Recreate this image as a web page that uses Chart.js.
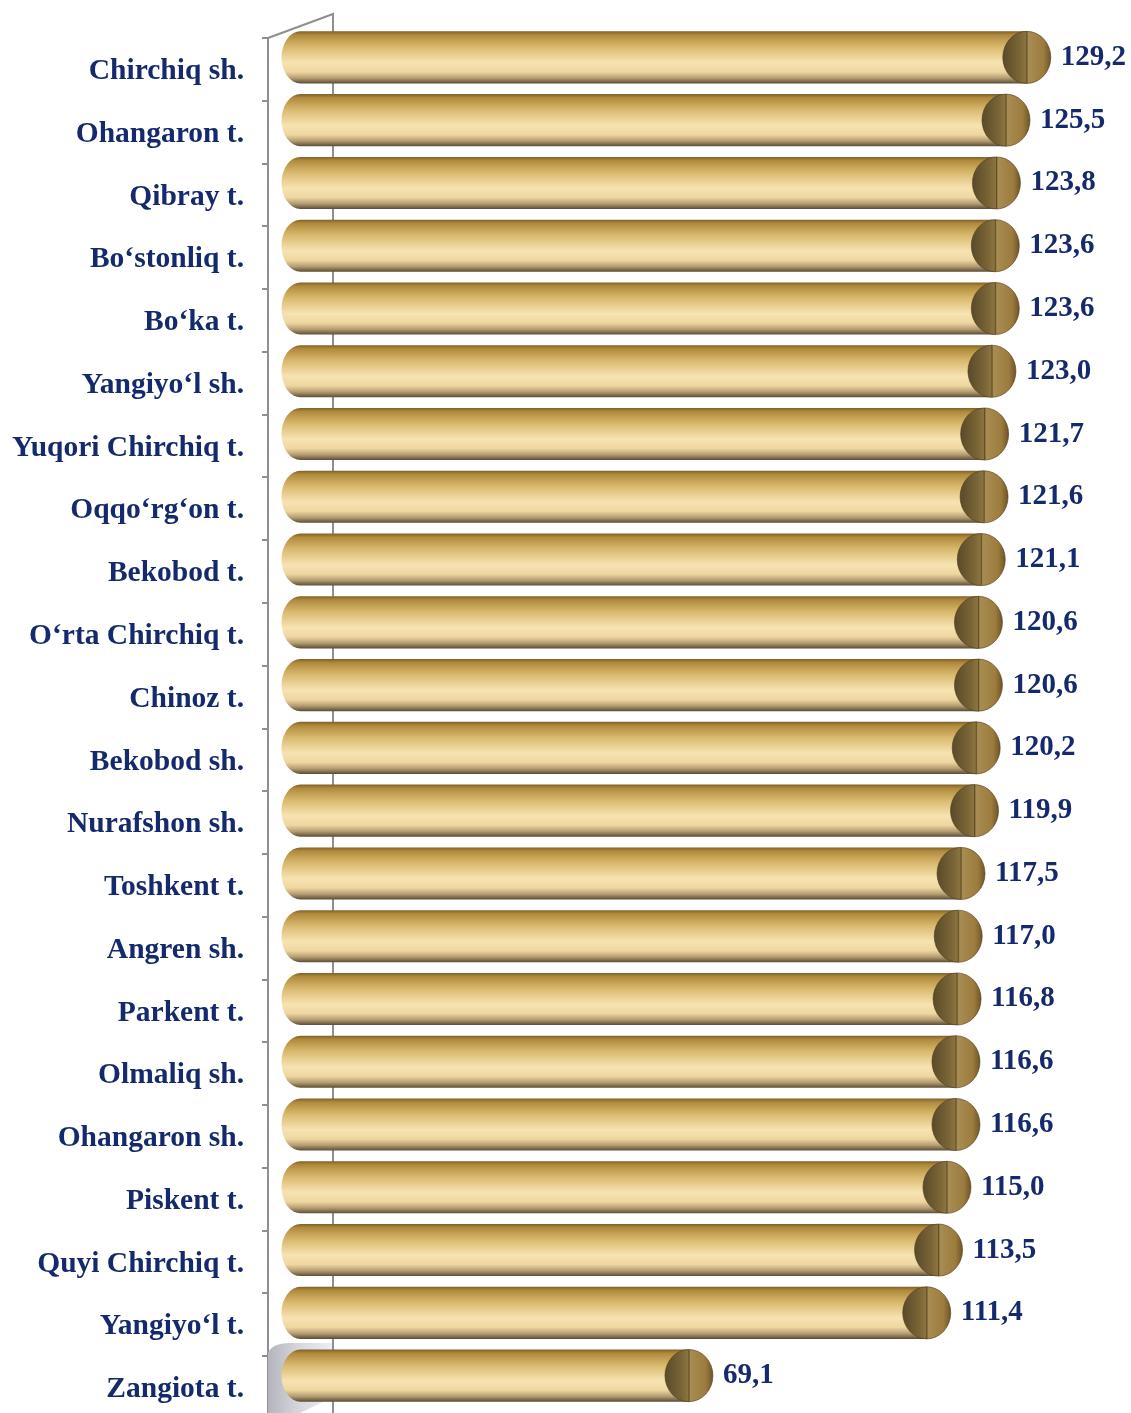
<!DOCTYPE html>
<html>
<head>
<meta charset="utf-8">
<script src="https://cdn.jsdelivr.net/npm/chart.js@4/dist/chart.umd.min.js"></script>
<style>
  html, body { margin: 0; padding: 0; background: #fff; }
  #grafik { display: block; }
</style>
</head>
<body>
<canvas id="grafik" width="1131" height="1413"></canvas>
<script>
const hududlar = [
  "Chirchiq sh.",
  "Ohangaron t.",
  "Qibray t.",
  "Bo‘stonliq t.",
  "Bo‘ka t.",
  "Yangiyo‘l sh.",
  "Yuqori Chirchiq t.",
  "Oqqo‘rg‘on t.",
  "Bekobod t.",
  "O‘rta Chirchiq t.",
  "Chinoz t.",
  "Bekobod sh.",
  "Nurafshon sh.",
  "Toshkent t.",
  "Angren sh.",
  "Parkent t.",
  "Olmaliq sh.",
  "Ohangaron sh.",
  "Piskent t.",
  "Quyi Chirchiq t.",
  "Yangiyo‘l t.",
  "Zangiota t.",
];
const qiymatlar = [
  129.2, 125.5, 123.8, 123.6, 123.6, 123.0, 121.7, 121.6, 121.1, 120.6, 120.6,
  120.2, 119.9, 117.5, 117.0, 116.8, 116.6, 116.6, 115.0, 113.5, 111.4, 69.1,
];

const matnRangi = "#142a6c";
const chiziqRangi = "#8f8f8f";
const chuqurlikX = 65;
const chuqurlikY = 24;
// grafik pastdan kesilgan: o'q rasm chegarasidan biroz pastga ketadi
const pastgaChiqish = 6;

function formatla(v) {
  return v.toFixed(1).replace(".", ",");
}

const ramkaPlugin = {
  id: "ramka",
  afterLayout(chart) {
    const y = chart.scales.y;
    y.bottom += pastgaChiqish;
    y.height += pastgaChiqish;
    chart.chartArea.bottom += pastgaChiqish;
    chart.chartArea.height += pastgaChiqish;
    y.configure();
  },
  beforeDatasetsDraw(chart) {
    const ctx = chart.ctx;
    const a = chart.chartArea;
    ctx.save();

    // pastki "pol" soyasi
    const pol = ctx.createLinearGradient(a.left, 0, a.left + chuqurlikX, 0);
    pol.addColorStop(0, "#b4b4bc");
    pol.addColorStop(0.5, "#d8d8de");
    pol.addColorStop(1, "#eeeef2");
    ctx.fillStyle = pol;
    ctx.beginPath();
    ctx.moveTo(a.left, a.bottom - 66);
    ctx.quadraticCurveTo(a.left + 4, a.bottom - 76, a.left + 22, a.bottom - 76);
    ctx.lineTo(a.left + chuqurlikX, a.bottom - 76);
    ctx.lineTo(a.left + chuqurlikX, a.bottom - 22);
    ctx.lineTo(a.left + 32, a.bottom - 6);
    ctx.lineTo(a.left, a.bottom);
    ctx.closePath();
    ctx.fill();

    ctx.strokeStyle = chiziqRangi;
    ctx.lineWidth = 2;
    ctx.beginPath();
    ctx.moveTo(a.left, a.top);
    ctx.lineTo(a.left + chuqurlikX, a.top - chuqurlikY);
    ctx.lineTo(a.left + chuqurlikX, a.bottom);
    ctx.stroke();
    ctx.restore();
  },
  afterDatasetsDraw(chart) {
    const ctx = chart.ctx;
    const meta = chart.getDatasetMeta(0);
    const dx = chuqurlikX / 2;
    const dy = -chuqurlikY / 2;

    meta.data.forEach((bar, i) => {
      const x0 = bar.base + dx;
      const x1 = bar.x + dx;
      const cy = bar.y + dy;
      const ry = bar.height / 2;
      const rxChap = 19;
      const rx = 24;
      const top = cy - ry;
      const bottom = cy + ry;

      ctx.save();
      const tana = ctx.createLinearGradient(0, top, 0, bottom);
      tana.addColorStop(0, "#7e6128");
      tana.addColorStop(0.07, "#b08a3c");
      tana.addColorStop(0.3, "#d9b96e");
      tana.addColorStop(0.6, "#f7e3b2");
      tana.addColorStop(0.78, "#eed6a0");
      tana.addColorStop(0.9, "#b39b72");
      tana.addColorStop(1, "#5a4c34");
      ctx.fillStyle = tana;
      ctx.beginPath();
      ctx.moveTo(x0, top);
      ctx.lineTo(x1, top);
      ctx.lineTo(x1, bottom);
      ctx.lineTo(x0, bottom);
      ctx.ellipse(x0, cy, rxChap, ry, 0, Math.PI / 2, (Math.PI * 3) / 2);
      ctx.closePath();
      ctx.fill();

      const yuz = ctx.createLinearGradient(x1 - rx, 0, x1 + rx, 0);
      yuz.addColorStop(0, "#5a4a2a");
      yuz.addColorStop(0.35, "#7a6536");
      yuz.addColorStop(0.48, "#8c7440");
      yuz.addColorStop(0.5, "#5e4c28");
      yuz.addColorStop(0.53, "#a88c52");
      yuz.addColorStop(0.85, "#9c7c3e");
      yuz.addColorStop(1, "#6e5528");
      ctx.fillStyle = yuz;
      ctx.beginPath();
      ctx.ellipse(x1, cy, rx, ry, 0, 0, Math.PI * 2);
      ctx.fill();
      ctx.strokeStyle = "rgba(80,60,25,0.6)";
      ctx.lineWidth = 1;
      ctx.stroke();

      ctx.fillStyle = matnRangi;
      ctx.font = "bold 29px 'Liberation Serif'";
      ctx.textAlign = "left";
      ctx.textBaseline = "middle";
      ctx.fillText(formatla(qiymatlar[i]), x1 + rx + 10, cy);
      ctx.restore();
    });
  },
};

const ctx = document.getElementById("grafik").getContext("2d");

new Chart(ctx, {
  type: "bar",
  data: {
    labels: hududlar,
    datasets: [
      {
        data: qiymatlar,
        backgroundColor: "rgba(0,0,0,0)",
        borderWidth: 0,
        categoryPercentage: 1,
        barPercentage: 0.83,
      },
    ],
  },
  options: {
    indexAxis: "y",
    responsive: false,
    animation: false,
    layout: {
      padding: { top: 38, right: 76, bottom: 0, left: 0 },
    },
    plugins: {
      legend: { display: false },
      tooltip: { enabled: false },
    },
    scales: {
      x: {
        display: false,
        min: 0,
        max: 140,
      },
      y: {
        afterFit(scale) {
          scale.width = 268;
          scale.paddingTop = 0;
          scale.paddingBottom = 0;
        },
        grid: {
          drawOnChartArea: false,
          drawTicks: true,
          tickLength: 6,
          color: chiziqRangi,
          lineWidth: 2,
          offset: true,
        },
        border: { display: true, color: chiziqRangi, width: 2 },
        ticks: {
          padding: 18,
          labelOffset: 2,
          color: matnRangi,
          font: { family: "'Liberation Serif'", size: 29.5, weight: "bold" },
        },
      },
    },
  },
  plugins: [ramkaPlugin],
});
</script>
</body>
</html>
